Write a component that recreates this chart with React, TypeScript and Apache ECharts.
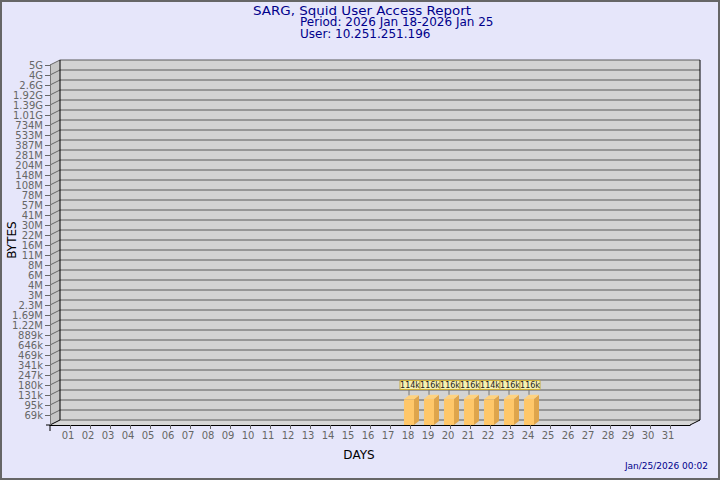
import React, { useEffect, useRef } from "react";
import * as echarts from "echarts";

const dayLabels = ["01","02","03","04","05","06","07","08","09","10","11","12","13","14","15","16","17","18","19","20","21","22","23","24","25","26","27","28","29","30","31"];
// bottom to top
const yTickLabels = ["69k","95k","131k","180k","247k","341k","469k","646k","889k","1.22M","1.69M","2.3M","3M","4M","6M","8M","11M","16M","22M","30M","41M","57M","78M","108M","148M","204M","281M","387M","533M","734M","1.01G","1.39G","1.92G","2.6G","4G","5G"];
const barDays = [18, 19, 20, 21, 22, 23, 24];
const barValuesK = [114, 116, 116, 116, 114, 116, 116];
const barLabels = ["114k","116k","116k","116k","114k","116k","116k"];

const titleLines = ["SARG, Squid User Access Report", "Period: 2026 Jan 18-2026 Jan 25", "User: 10.251.251.196"];
const stamp = "Jan/25/2026 00:02";

const FONT = "DejaVu Sans";

function parseLabel(s: string): number {
  const u = s.slice(-1);
  const n = parseFloat(s);
  if (u === "k") return n * 1e3;
  if (u === "M") return n * 1e6;
  if (u === "G") return n * 1e9;
  return n;
}
const tickVals = yTickLabels.map(parseLabel);

function valueToIndex(v: number): number {
  for (let i = 0; i < tickVals.length - 1; i++) {
    if (v >= tickVals[i] && v <= tickVals[i + 1]) {
      return i + 1 + Math.log(v / tickVals[i]) / Math.log(tickVals[i + 1] / tickVals[i]);
    }
  }
  return 1;
}

const DX = 10;
const DY = -5;
const XMAX = 32;
const YMAX = 36;

export default function App() {
  const ref = useRef<HTMLDivElement>(null);
  useEffect(() => {
    document.body.style.margin = "0";
    const chart = echarts.init(ref.current!, null, { renderer: "svg" });
    const ints = (a: number, b: number) => { const r: number[] = []; for (let i = a; i <= b; i++) r.push(i); return r; };

    const titleStyle = (t: string) => ({ text: t, x: 0, y: 0, fill: "#00008b", font: `12px "${FONT}"`, lineHeight: 10, textVerticalAlign: "middle" });

    const option: any = {
      animation: false,
      backgroundColor: "#e6e6fa",
      grid: { left: 50, right: 30, top: 65, bottom: 55, containLabel: false },
      xAxis: {
        type: "value", min: 0, max: XMAX, interval: 1, z: 5,
        axisLine: { show: true, onZero: false, lineStyle: { color: "#000", width: 1 } },
        axisTick: { show: true, length: 4, lineStyle: { color: "#666" }, customValues: ints(1, 31) },
        axisLabel: {
          color: "#666", fontFamily: FONT, fontSize: 10, margin: 5, padding: [0, 4, 0, 0],
          customValues: ints(1, 31),
          formatter: (v: number) => (v >= 1 && v <= 31 ? dayLabels[v - 1] : ""),
        },
        splitLine: { show: false },
      },
      yAxis: {
        type: "value", min: 0, max: YMAX, interval: 1, z: 5,
        axisLine: { show: true, lineStyle: { color: "#777", width: 1 } },
        axisTick: { show: true, length: 5, lineStyle: { color: "#666" }, customValues: ints(1, 36) },
        axisLabel: {
          color: "#666", fontFamily: FONT, fontSize: 10, margin: 7,
          customValues: ints(1, 36),
          formatter: (v: number) => (v >= 1 && v <= 36 ? yTickLabels[v - 1] : ""),
        },
        splitLine: { show: false },
      },
      graphic: [
        { type: "rect", shape: { x: 1, y: 1, width: 718, height: 478 }, style: { fill: "none", stroke: "#666", lineWidth: 2 }, z: 100 },
        { type: "text", x: 253, y: 11, scaleX: 1.12, style: titleStyle(titleLines[0]) },
        { type: "text", x: 300, y: 22, style: titleStyle(titleLines[1]) },
        { type: "text", x: 300, y: 34, style: titleStyle(titleLines[2]) },
        { type: "text", x: 12, y: 240, rotation: Math.PI / 2, style: { text: "BYTES", x: 0, y: 0, fill: "#000", font: `12px "${FONT}"`, textAlign: "center", textVerticalAlign: "middle" } },
        { type: "text", style: { text: "DAYS", x: 359, y: 455, fill: "#000", font: `12px "${FONT}"`, textAlign: "center", textVerticalAlign: "middle" } },
        { type: "text", style: { text: stamp, x: 708, y: 466, fill: "#00008b", font: `9px "${FONT}"`, textAlign: "right", textVerticalAlign: "middle" } },
      ],
      series: [
        {
          type: "custom",
          name: "walls",
          z: 1,
          silent: true,
          data: [[0, 0]],
          renderItem: (params: any, api: any) => {
            const p0 = api.coord([0, 0]);
            const p1 = api.coord([XMAX, YMAX]);
            const x0 = p0[0], y0 = p0[1], x1 = p1[0], y1 = p1[1];
            const children: any[] = [];
            children.push({ type: "rect", shape: { x: x0 + DX, y: y1 + DY, width: x1 - x0, height: y0 - y1 }, style: { fill: "#d3d3d3" } });
            children.push({ type: "polygon", shape: { points: [[x0, y1], [x0 + DX, y1 + DY], [x0 + DX, y0 + DY], [x0, y0]] }, style: { fill: "#c6c6c6" } });
            children.push({ type: "polygon", shape: { points: [[x0, y0], [x0 + DX, y0 + DY], [x1 + DX, y0 + DY], [x1, y0]] }, style: { fill: "#d6d6d6" } });
            for (let k = 0; k <= YMAX; k++) {
              const y = api.coord([0, k])[1];
              children.push({ type: "line", shape: { x1: x0 + DX, y1: y + DY, x2: x1 + DX, y2: y + DY }, style: { stroke: "#5a5a5a", lineWidth: 1 } });
              children.push({ type: "line", shape: { x1: x0, y1: y, x2: x0 + DX, y2: y + DY }, style: { stroke: k === 0 ? "#000" : "#666", lineWidth: 1 } });
            }
            children.push({ type: "line", shape: { x1: x0 + DX, y1: y1 + DY, x2: x0 + DX, y2: y0 + DY }, style: { stroke: "#000", lineWidth: 1 } });
            children.push({ type: "line", shape: { x1: x1 + DX, y1: y1 + DY, x2: x1 + DX, y2: y0 + DY }, style: { stroke: "#000", lineWidth: 1 } });
            children.push({ type: "line", shape: { x1: x1, y1: y0, x2: x1 + DX, y2: y0 + DY }, style: { stroke: "#000", lineWidth: 1 } });
            children.push({ type: "line", shape: { x1: x0 - 4, y1: y0, x2: x0, y2: y0 }, style: { stroke: "#000", lineWidth: 1 } });
            children.push({ type: "line", shape: { x1: x0, y1: y0, x2: x0, y2: y0 + 6 }, style: { stroke: "#000", lineWidth: 1 } });
            return { type: "group", children };
          },
        },
        {
          type: "custom",
          name: "bytes",
          z: 3,
          data: barDays.map((d, i) => [d, valueToIndex(barValuesK[i] * 1e3), i]),
          renderItem: (params: any, api: any) => {
            const day = api.value(0);
            const idx = api.value(1);
            const i = api.value(2);
            const top = api.coord([day, idx]);
            const base = api.coord([day, 0]);
            const cx = top[0] - 1;
            const hw = 5;
            const bx = 5, by = -4;
            const yt = top[1], yb = base[1];
            const children: any[] = [
              { type: "polygon", shape: { points: [[cx + hw, yt], [cx + hw + bx, yt + by], [cx + hw + bx, yb + by], [cx + hw, yb]] }, style: { fill: "#dfa54c" } },
              { type: "polygon", shape: { points: [[cx - hw, yt], [cx - hw + bx, yt + by], [cx + hw + bx, yt + by], [cx + hw, yt]] }, style: { fill: "#ffd27e" } },
              { type: "rect", shape: { x: cx - hw, y: yt, width: hw * 2, height: yb - yt }, style: { fill: "#ffc76a" } },
              { type: "line", shape: { x1: cx, y1: yt - 4, x2: cx, y2: 389 }, style: { stroke: "#777", lineWidth: 1 } },
              { type: "rect", shape: { x: cx - 9, y: 380.5, width: 20, height: 9 }, style: { fill: "#f6f1b2", stroke: "#c9ad3c", lineWidth: 1 } },
              { type: "text", style: { text: barLabels[i], x: cx + 1, y: 385.5, fill: "#222", font: `8px "${FONT}"`, textAlign: "center", textVerticalAlign: "middle" } },
            ];
            return { type: "group", children };
          },
        },
      ],
    };
    chart.setOption(option);
    return () => chart.dispose();
  }, []);
  return <div ref={ref} style={{ width: 720, height: 480 }} />;
}
